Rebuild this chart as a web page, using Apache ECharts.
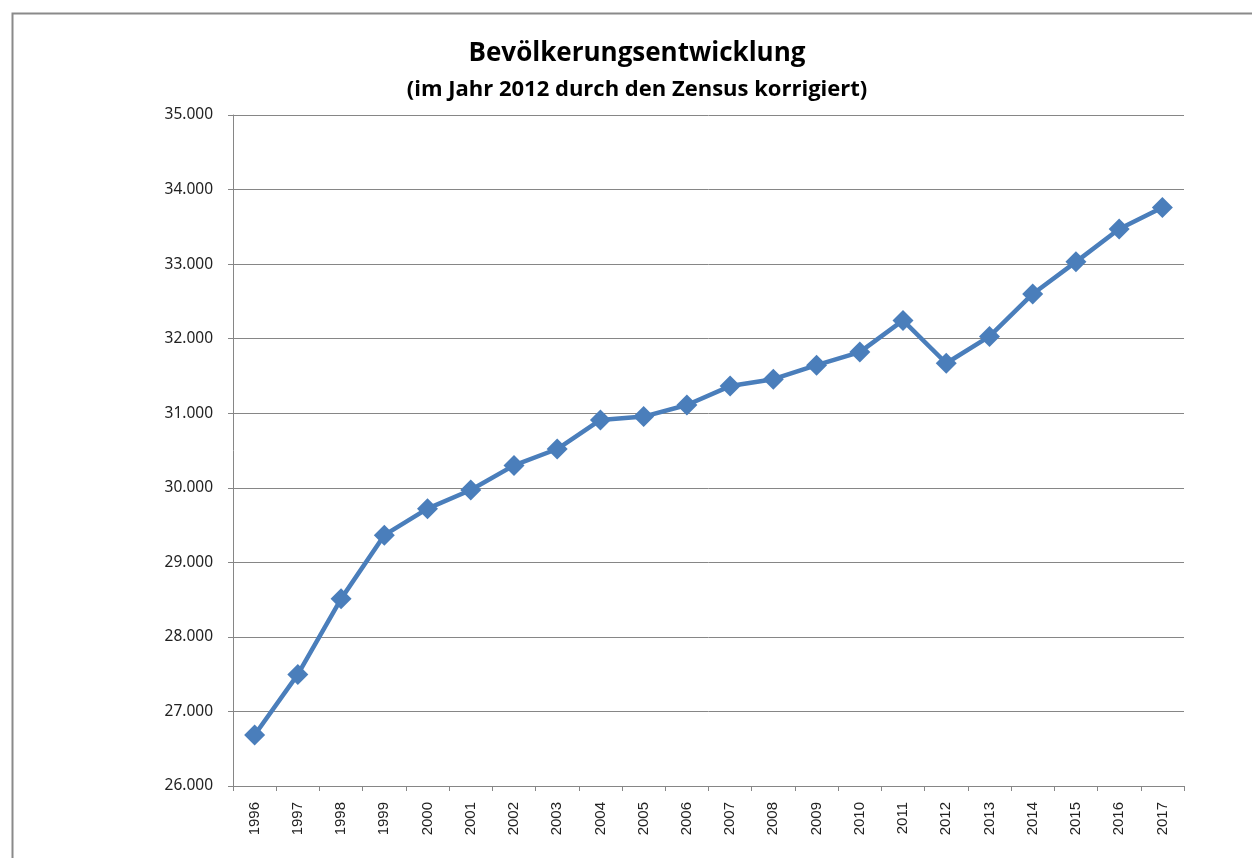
<!DOCTYPE html>
<html>
<head>
<meta charset="utf-8">
<title>Bevölkerungsentwicklung</title>
<script src="https://cdn.jsdelivr.net/npm/echarts@6/dist/echarts.min.js"></script>
<style>
    html, body { margin: 0; padding: 0; background: #fff; }
    #chart { width: 1252px; height: 858px; }
</style>
</head>
<body>
<div id="chart"></div>
<script>
// Jahre und Einwohner
var years = ['1996', '1997', '1998', '1999', '2000', '2001', '2002', '2003', '2004', '2005', '2006',
    '2007', '2008', '2009', '2010', '2011', '2012', '2013', '2014', '2015', '2016', '2017'];
var population = [26684, 27497, 28510, 29364, 29720, 29970, 30300, 30520, 30910, 30955, 31110,
    31364, 31456, 31644, 31820, 32245, 31670, 32030, 32600, 33030, 33470, 33760];

var yMin = 26000;
var yMax = 35000;
var yStep = 1000;

var chartDom = document.getElementById('chart');
var myChart = echarts.init(chartDom, null, { renderer: 'canvas' });

function formatThousands(v) {
    var s = String(Math.round(v));
    return s.replace(/\B(?=(\d{3})+(?!\d))/g, '.');
}

var option = {
    backgroundColor: '#ffffff',
    animation: false,
    title: {
        text: 'Bevölkerungsentwicklung',
        subtext: '(im Jahr 2012 durch den Zensus korrigiert)',
        left: 632,
        textAlign: 'center',
        top: 36,
        itemGap: 12,
        textStyle: {
            fontFamily: 'Open Sans',
            fontWeight: 'bold',
            fontSize: 26,
            color: '#000'
        },
        subtextStyle: {
            fontFamily: 'Open Sans',
            fontWeight: 'bold',
            fontSize: 22,
            color: '#000'
        }
    },
    graphic: [{
        type: 'rect',
        left: 10,
        top: 11,
        shape: { width: 1400, height: 1000 },
        style: { fill: 'none', stroke: '#8a8a8a', lineWidth: 2 },
        silent: true
    }],
    grid: {
        left: 233,
        right: 68,
        top: 115,
        bottom: 72,
        containLabel: false
    },
    xAxis: {
        type: 'category',
        data: years,
        boundaryGap: true,
        axisLine: { lineStyle: { color: '#868686', width: 1 } },
        axisTick: { show: true, length: 5, alignWithLabel: false, lineStyle: { color: '#868686' } },
        axisLabel: {
            rotate: 90,
            interval: 0,
            margin: 16,
            fontFamily: 'Liberation Sans',
            fontSize: 15,
            color: '#222'
        },
        splitLine: { show: false }
    },
    yAxis: {
        type: 'value',
        min: yMin,
        max: yMax,
        interval: yStep,
        axisLine: { show: true, lineStyle: { color: '#868686', width: 1 } },
        axisTick: { show: true, length: 5, lineStyle: { color: '#868686' } },
        axisLabel: {
            margin: 20,
            fontFamily: 'Noto Sans',
            fontSize: 15.5,
            color: '#222',
            formatter: formatThousands
        },
        splitLine: { show: true, lineStyle: { color: '#868686', width: 1 } }
    },
    series: [{
        name: 'Einwohner',
        type: 'line',
        data: population,
        symbol: 'diamond',
        symbolSize: 21,
        showAllSymbol: true,
        lineStyle: { color: '#4a7ebb', width: 4.5 },
        itemStyle: { color: '#4a7ebb' },
        z: 3
    }]
};

option && myChart.setOption(option);
</script>
</body>
</html>
